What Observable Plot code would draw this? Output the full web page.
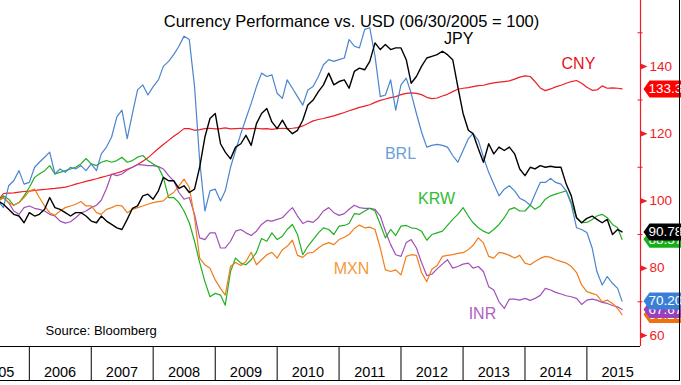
<!DOCTYPE html>
<html>
<head>
<meta charset="utf-8">
<script src="https://cdn.jsdelivr.net/npm/d3@7"></script>
<script src="https://cdn.jsdelivr.net/npm/@observablehq/plot@0.6"></script>
<style>
  html, body { margin: 0; padding: 0; background: white; overflow: hidden; }
  #wrap { position: relative; width: 681px; height: 385px; overflow: hidden; font-family: "Liberation Sans", Arial, sans-serif; }
  #border { position: absolute; left: 0; top: 0; width: 679px; height: 380px; border-right: 1px solid #000; border-bottom: 1px solid #000; box-sizing: content-box; pointer-events: none; }
</style>
</head>
<body>
<div id="wrap"><div id="border"></div></div>
<script>
// ---- Data (index 06/30/2005 = 100), monthly readings ----
const startMonth = new Date("2005-07-01");
const stopMonth = new Date("2015-07-02");
const lastDate = new Date("2015-07-27");

const CNY = [
  100, 102.2, 102.3, 102.4, 102.6, 102.8, 102.9, 103.1, 103.3, 103.4, 103.6, 103.7,
  103.9, 104.1, 104.5, 105.0, 105.4, 105.8, 106.2, 106.6, 107.0, 107.4, 107.8, 108.3,
  108.8, 109.4, 110.0, 110.8, 111.8, 112.8, 114.2, 115.6, 116.8, 118.0, 119.2, 120.3,
  121.5, 121.5, 121.0, 121.2, 121.5, 121.6, 121.4, 121.5, 121.7, 121.4, 121.5, 121.6,
  121.4, 121.5, 121.6, 121.4, 121.5, 121.3, 121.5, 121.6, 121.5, 121.6, 121.8, 122.3,
  123.0, 123.8, 124.2, 124.5, 124.9, 125.3, 125.8, 126.3, 126.8, 127.3, 127.8, 128.2,
  128.6, 129.3, 129.9, 130.3, 130.7, 131.0, 131.6, 132.0, 132.1, 132.0, 131.6, 130.8,
  130.4, 130.6, 131.2, 131.7, 132.5, 133.2, 133.5, 133.7, 134.0, 134.3, 134.4, 134.8,
  135.1, 135.3, 135.5, 135.7, 136.2, 136.8, 137.2, 137.0, 135.5, 133.6, 132.8, 133.3,
  133.9, 134.4, 135.0, 135.5, 135.8, 135.0, 133.8, 132.9, 133.0, 134.2, 133.5, 133.6,
  133.5, 133.3
];
const BRL = [
  100, 98, 104.5, 106, 109, 105, 105.5, 110, 111.5, 113, 114.5, 108,
  109.5, 108.5, 110, 109.5, 110.5, 109, 111, 109, 114, 116, 119, 125,
  127, 118.5, 126, 133, 134.5, 131.5, 134, 136, 140, 141.5, 143.5, 146,
  149, 148, 134, 112, 97, 103, 103.5, 100, 103, 110, 115, 120,
  124.5, 129, 134, 138, 137, 137.5, 132, 130.5, 136, 133.5, 131, 128.5,
  133, 134, 137, 140.5, 142, 141.5, 142, 142.5, 148, 146, 145.5, 151,
  151.5, 143, 131, 131.5, 136, 127, 134.5, 136.5, 132, 126, 120.5, 116,
  116.5, 116.8, 116.5, 116, 113.5, 111.5, 115, 118.5, 120, 118, 113, 108.5,
  105, 101.5, 103.5, 104.5, 103, 100.8, 100, 98.7, 102, 105.5, 105.5, 106.7,
  105.5, 105, 103, 99, 92, 91.5, 90.6, 86, 79, 75, 77.5, 75.5,
  74, 70.2
];
const JPY = [
  100, 99, 97.5, 96, 95.5, 93.5, 96.5, 95.5, 96, 97.5, 101, 98,
  97.5, 96.5, 95.5, 96.5, 96.5, 95.5, 94, 93.5, 95.5, 94, 93, 92,
  91.5, 94.5, 97.8, 98.5, 101.5, 102, 100.5, 103, 107, 106, 106, 103.7,
  104.5, 102.5, 103.5, 110, 119, 124.5, 126, 117, 114.5, 112.5, 116, 117,
  119.5, 116.5, 123, 126, 127.5, 123.5, 121.5, 124, 121.5, 120, 121, 124,
  128.5, 130, 132.5, 134.5, 138, 134.5, 135.5, 136, 133.5, 138.5, 139.5, 139,
  141.5, 147, 145, 146.5, 145, 145.5, 145.5, 142, 135, 137, 140, 142.5,
  143, 143.5, 144.5, 143.5, 142, 134, 126, 121, 120, 115.5, 111.5, 117,
  114, 116, 115, 116, 114, 109.5, 107.5, 110, 109.5, 110.5, 110, 110.3,
  110, 110, 105, 101.5, 95, 93.5, 94.8, 95.5, 94.5, 93.5, 94.5, 90,
  91.5, 90.78
];
const KRW = [
  100, 101.5, 100.5, 98.7, 99.5, 101.5, 104, 107, 108, 109, 110.5, 108,
  108.5, 109, 109.5, 110, 111, 112.6, 111, 110.5, 111.5, 112, 111.5, 112,
  113, 111.5, 112, 113, 113.5, 112, 111, 110, 107, 101, 101, 99.5,
  97, 93.5, 88, 81.7, 76, 71.5, 72.5, 72, 69, 79, 83, 81.5,
  81, 82.5, 84.7, 88.8, 88, 90.5, 88.5, 89.5, 91.5, 93, 90, 84,
  86.5, 88.5, 90.5, 92, 91.5, 90, 92.5, 92.7, 93.3, 96.2, 96, 97,
  97.8, 97, 93, 89, 91.5, 89.7, 92.5, 92.7, 92, 91.8, 91, 88.3,
  90, 90.5, 91, 92.7, 94.5, 96, 98, 95.5, 93.5, 92, 91, 90.3,
  91.5, 93, 95, 97.5, 98, 97, 97, 98.7, 97.5, 98.5, 100.5, 101.5,
  102, 102.5, 103, 99.5, 95, 93.5, 93.6, 94.5, 95.5, 96, 95, 93,
  92, 88.57
];
const MXN = [
  100, 101, 99.5, 98.7, 99.5, 101, 103, 103.5, 101, 98.5, 96.5, 95.7,
  97, 98, 98.5, 99, 99.8, 98.5, 98.5, 96.5, 96, 97.5, 98, 98.7,
  98.5, 96.5, 97.5, 98, 98.5, 99, 99.5, 99.8, 100, 101.5, 102.5, 104.5,
  106.5, 104, 95, 83, 81, 80, 76.5, 74, 72, 80.5, 81.7, 80.8,
  82, 84.7, 81, 82.5, 84, 84.7, 83, 85.5, 86.5, 88.3, 83.8, 83.2,
  84.5, 84.7, 86, 87, 87.6, 87, 88.5, 89.2, 90, 91.8, 92.8, 92,
  92.2, 91.5, 86, 79.5, 79, 79.5, 78, 83.5, 84, 83.8, 78.7, 76,
  79.7, 80.8, 83.5, 83.8, 84, 84.4, 84.6, 85.5, 86.8, 89, 87.5, 83.5,
  83, 84.7, 84.4, 83.8, 83, 83.8, 81.5, 81, 82, 82.9, 83.5, 83.2,
  82.5, 82, 81.5, 80.5, 78.7, 75, 73, 72.5, 72, 70, 70.5, 69.5,
  68, 66.2
];
const INR = [
  100, 101, 99.5, 97, 96, 98, 98.5, 97.8, 97.5, 97, 96, 95.5,
  94, 93.4, 93.8, 95, 96.4, 97, 98, 98.7, 100.2, 103.7, 108, 107.5,
  108, 109.2, 110, 110.8, 110.7, 110.5, 110.5, 110.2, 109.5, 107.5, 106, 102.5,
  100.5, 101, 96, 89, 88.5, 90.5, 90.5, 86, 86, 88, 91, 91.5,
  90.5, 89.7, 91, 93, 94.2, 94, 94.5, 95, 96.5, 98, 95.5, 93.3,
  94, 93.6, 95, 97, 98, 96.5, 95.7, 96.2, 97.5, 98.7, 98, 97.8,
  97.8, 97.5, 95.5, 91, 87, 84, 83.5, 87.6, 88.5, 86, 81.7, 77.8,
  78.2, 79.8, 81.2, 82.5, 80, 80.5, 81.2, 81.5, 80, 80.5, 79, 74.5,
  73.5, 70, 68, 70.8, 70.8, 70.5, 71, 70.4, 71, 71.9, 74, 73.5,
  72.8, 72.3, 71.8, 71.5, 71, 69.2, 70.5, 70.8, 70.5, 69.8, 69.5, 68.9,
  68.5, 67.67
];

const series = [
  {name: "CNY", values: CNY, color: "#ee1c25", width: 1.2},
  {name: "INR", values: INR, color: "#a050b8", width: 1.2},
  {name: "KRW", values: KRW, color: "#22b022", width: 1.2},
  {name: "MXN", values: MXN, color: "#f07d1a", width: 1.2},
  {name: "BRL", values: BRL, color: "#4a84cf", width: 1.2},
  {name: "JPY", values: JPY, color: "#000000", width: 1.4}
];

// Series name labels (data coordinates)
const labelNames = ["JPY", "CNY", "BRL", "KRW", "MXN", "INR"];
const labelDates = ["2012-12-06", "2014-11-12", "2011-12-29", "2012-07-29", "2011-03-15", "2013-04-25"].map(d => new Date(d));
const labelValues = [148.3, 140.9, 114.1, 100.7, 79.9, 66.5];
const labelColors = ["#000000", "#e3151a", "#6e9ed8", "#33bb33", "#f39a3c", "#b160c5"];

// Last-value tags (drawn bottom to top)
const tagNames = ["CNY", "KRW", "JPY", "MXN", "INR", "BRL"];
const tagValues = [133.3, 88.57, 90.78, 66.2, 67.67, 70.2];
const tagTexts = ["133.3", "88.57", "90.78", "66.20", "67.67", "70.20"];
const tagColors = ["#ff0000", "#16b016", "#000000", "#f07010", "#9a3fc0", "#3a7fd6"];

// Axis ticks
const yMajor = [60, 80, 100, 120, 140];
const yMinor = [70, 90, 110, 130, 150];
const yearBounds = d3.range(2006, 2016).map(y => new Date(Date.UTC(y, 0, 1)));
const yearMids = d3.range(2005, 2016).map(y => new Date(Date.UTC(y, 6, 1)));

const title = "Currency Performance vs. USD (06/30/2005 = 100)";
const source = "Source: Bloomberg";

// ---- Build ----
const dates = d3.utcMonth.range(startMonth, stopMonth);
dates.push(lastDate);

const RED = "#ee1c25";
const tagSymbol = {draw(ctx) { ctx.moveTo(3, 0); ctx.lineTo(9, -8.5); ctx.lineTo(50, -8.5); ctx.lineTo(50, 8.5); ctx.lineTo(9, 8.5); ctx.closePath(); }};
const triSymbol = {draw(ctx) { ctx.moveTo(0, -3); ctx.lineTo(7, 0); ctx.lineTo(0, 3); ctx.closePath(); }};
const dashSymbol = {draw(ctx) { ctx.moveTo(-3, 0); ctx.lineTo(2, 0); }};

const lineMarks = series.map(s => Plot.line(s.values, {
  x: dates.slice(0, s.values.length), y: s.values, stroke: s.color, strokeWidth: s.width, curve: "linear"
}));

const tagMarks = tagNames.flatMap((n, i) => [
  Plot.dot([tagValues[i]], {y: d => d, frameAnchor: "right", symbol: tagSymbol, fill: tagColors[i], stroke: "none", r: 4}),
  Plot.text([tagTexts[i]], {y: [tagValues[i]], text: d => d, frameAnchor: "right", dx: 8, textAnchor: "start", fill: "white", fontSize: 13.5})
]);

const chart = Plot.plot({
  width: 681,
  height: 385,
  marginLeft: 0,
  marginRight: 41,
  marginTop: 0,
  marginBottom: 39,
  style: {fontFamily: '"Liberation Sans", Arial, sans-serif', background: "transparent", overflow: "hidden"},
  x: {type: "utc", domain: [new Date("2005-07-15"), new Date("2015-11-13")], label: null},
  y: {domain: [56.7, 159.6], label: null},
  marks: [
    Plot.axisX(yearBounds, {tickSize: 34, tickFormat: () => "", stroke: "black", label: null}),
    Plot.axisX(yearMids, {tickSize: 0, tickPadding: 20, tickFormat: d3.utcFormat("%Y"), fontSize: 14.5, fill: "black", label: null}),
    Plot.axisY(yMajor, {anchor: "right", tickSize: 0, tickPadding: 9, fill: RED, fontSize: 13.5, label: null}),
    Plot.ruleY([56.7], {stroke: "black", strokeWidth: 1}),
    Plot.ruleX([new Date("2015-11-13")], {stroke: RED, strokeWidth: 1.2}),
    Plot.dot(yMajor, {y: d => d, frameAnchor: "right", symbol: triSymbol, fill: RED, stroke: "none"}),
    Plot.dot(yMinor, {y: d => d, frameAnchor: "right", symbol: dashSymbol, fill: "none", stroke: RED, strokeWidth: 1}),
    ...lineMarks,
    Plot.text(labelNames, {x: labelDates, y: labelValues, text: d => d, fill: labelColors, fontSize: 16, textAnchor: "middle"}),
    Plot.text([title], {frameAnchor: "top-left", dx: 351, dy: 15, textAnchor: "middle", fontSize: 16.5, fill: "black"}),
    Plot.text([source], {frameAnchor: "bottom-left", dx: 45, dy: -12, textAnchor: "start", fontSize: 13, fill: "black"}),
    ...tagMarks
  ]
});

document.getElementById("wrap").prepend(chart);
</script>
</body>
</html>
